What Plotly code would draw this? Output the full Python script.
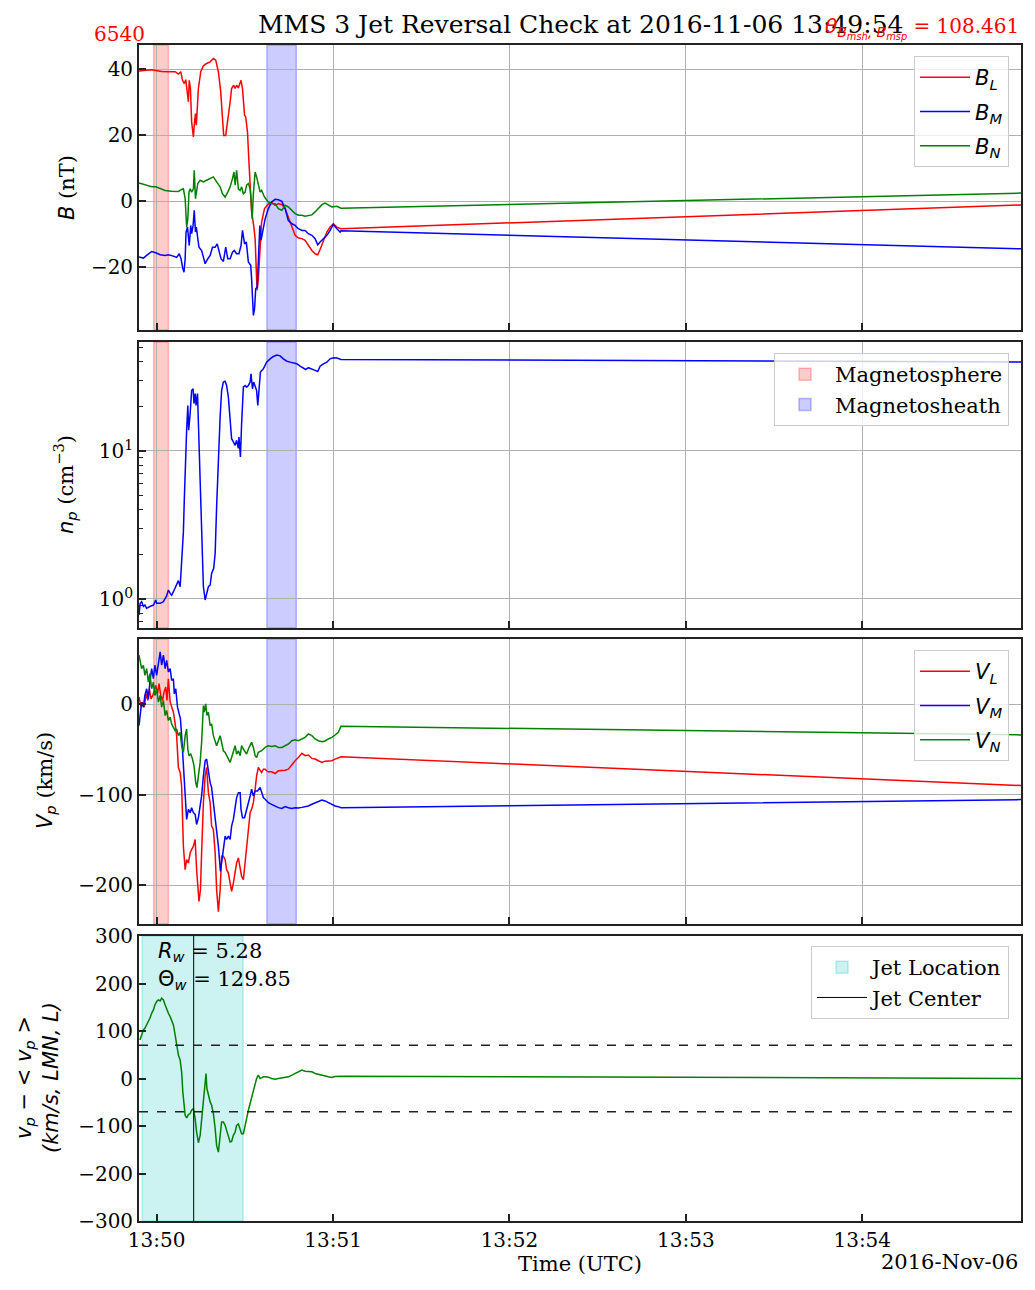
import pandas as pd
import plotly.graph_objects as go
from plotly.subplots import make_subplots

# MMS 3, 2016-11-06. times are seconds after 13:50:00 UTC
T0 = pd.Timestamp("2016-11-06 13:50:00")
T_START, T_END = -6.0, 294.0

# magnetic field, LMN (nT)
BL = [(-6.0, 39.4), (-4.0, 39.6), (-1.7, 39.8), (-0.3, 39.6), (1.7, 39.3), (4.0, 39.2), (6.3, 39.2), (7.4, 38.5),
      (8.2, 39.2), (8.8, 36.6), (9.4, 35.6), (9.9, 36.8), (10.2, 34.6), (10.8, 30.1), (11.1, 36.6), (11.5, 34.1),
      (11.9, 24.0), (12.5, 19.4), (12.8, 23.0), (13.2, 26.5), (13.5, 23.0), (14.2, 34.1), (15.0, 39.2), (15.9, 41.0),
      (17.0, 41.7), (18.2, 42.2), (19.3, 43.2), (20.1, 42.7), (21.0, 39.2), (21.8, 33.1), (22.4, 25.0), (22.8, 19.9),
      (23.5, 19.9), (24.2, 24.0), (25.0, 30.1), (25.5, 34.1), (26.2, 35.1), (26.7, 34.1), (27.2, 35.1), (27.8, 34.3),
      (28.7, 36.6), (29.2, 34.1), (29.9, 26.0), (30.3, 25.5), (30.9, 20.9), (31.4, 11.8), (31.9, 3.7), (32.3, -3.3),
      (33.0, -7.4), (33.5, -11.4), (34.0, -23.6), (34.2, -27.0), (34.6, -23.6), (35.0, -17.5), (35.3, -9.4),
      (35.7, -6.4), (36.7, -2.3), (37.8, -1.1), (39.1, -0.3), (40.3, -1.3), (41.4, -0.8), (42.6, -1.1), (43.7, -2.3),
      (44.8, -4.9), (46.0, -7.9), (47.1, -10.4), (48.2, -11.2), (49.4, -11.4), (50.5, -11.9), (51.6, -13.5),
      (52.8, -15.0), (53.9, -16.0), (54.8, -16.3), (55.6, -14.7), (56.7, -12.4), (57.9, -9.4), (59.0, -7.9),
      (60.1, -6.9), (61.3, -7.9), (62.4, -8.4), (62.7, -8.4), (294.0, -1.2)]
BM = [(-6.0, -17.0), (-4.5, -17.3), (-3.4, -16.5), (-1.7, -15.3), (-0.3, -15.7), (1.2, -16.3), (2.9, -16.5),
      (4.0, -16.3), (5.7, -16.7), (6.8, -17.1), (7.7, -16.0), (8.3, -17.5), (8.9, -20.5), (9.3, -21.6), (9.7, -17.5),
      (10.0, -9.4), (10.5, -7.9), (10.8, -11.4), (11.1, -13.5), (11.6, -7.4), (11.9, -9.9), (12.4, -7.4),
      (12.8, -2.8), (13.2, -9.4), (13.5, -7.9), (14.0, -11.4), (14.4, -14.0), (15.3, -15.0), (16.5, -19.0),
      (17.4, -17.5), (18.2, -16.5), (19.0, -14.0), (19.9, -14.0), (20.6, -13.0), (21.2, -15.0), (21.9, -17.5),
      (22.7, -18.3), (23.5, -14.0), (24.2, -17.5), (25.0, -17.5), (25.8, -15.5), (26.4, -15.0), (27.2, -16.0),
      (28.0, -16.0), (28.7, -13.5), (29.2, -8.9), (29.9, -13.0), (30.5, -12.4), (31.2, -18.5), (32.0, -19.5),
      (32.3, -23.6), (32.9, -34.7), (33.3, -32.7), (33.7, -26.6), (34.2, -26.1), (34.6, -17.5), (35.1, -7.4),
      (35.5, -11.9), (36.0, -9.9), (36.9, -5.4), (38.0, -2.3), (39.1, -0.3), (40.3, 0.5), (41.4, 0.4), (42.6, -0.1),
      (43.7, -2.3), (44.8, -5.9), (46.0, -6.9), (47.1, -7.4), (48.2, -8.4), (49.4, -8.9), (50.5, -8.9),
      (51.6, -9.9), (52.8, -10.4), (53.9, -11.4), (54.8, -13.3), (55.6, -12.4), (56.7, -11.4), (57.9, -10.4),
      (59.0, -8.9), (60.1, -7.1), (61.3, -8.4), (62.4, -9.4), (62.7, -9.0), (294.0, -14.5)]
BN = [(-6.0, 5.5), (-4.0, 5.0), (-1.7, 4.3), (-0.3, 4.3), (1.7, 3.7), (2.9, 3.2), (5.1, 3.0), (7.4, 2.9), (8.5, 3.5),
      (9.1, 3.7), (9.7, 0.7), (10.2, -7.9), (10.6, -5.4), (11.0, 2.7), (11.4, 3.7), (11.9, 2.7), (12.5, 3.7),
      (12.8, 9.3), (13.2, 0.7), (13.5, 2.7), (14.0, 5.3), (14.8, 6.3), (15.9, 5.8), (17.0, 6.3), (18.2, 6.8),
      (19.3, 7.3), (20.4, 5.8), (21.6, 4.3), (22.4, 2.2), (23.3, 1.2), (24.2, 2.7), (25.0, 4.3), (25.8, 6.8),
      (26.3, 8.8), (26.7, 4.8), (27.2, 9.3), (27.8, 3.7), (28.4, 3.2), (28.9, 4.3), (29.5, 2.2), (30.1, 2.7),
      (30.6, 4.8), (31.2, 5.3), (31.8, 3.7), (32.1, 0.7), (32.5, -5.4), (32.9, 2.2), (33.5, 8.8), (34.0, 7.3),
      (34.6, 4.8), (35.2, 2.7), (35.7, 3.2), (36.7, 1.2), (37.8, -0.1), (39.1, -0.8), (40.3, -0.8), (41.4, -2.3),
      (42.6, -2.8), (43.7, -1.3), (44.8, -1.8), (46.0, -2.8), (47.1, -3.8), (48.2, -4.3), (49.4, -4.3),
      (50.5, -4.6), (51.6, -4.3), (52.8, -4.2), (53.9, -3.3), (55.0, -2.1), (56.2, -1.1), (57.3, -0.6),
      (58.4, -1.3), (59.6, -1.8), (61.3, -1.6), (62.4, -2.1), (62.7, -2.2), (294.0, 2.4)]

# proton density (cm^-3)
NP = [(-6.0, 0.78), (-5.6, 0.935), (-5.1, 0.96), (-4.5, 0.89), (-4.0, 0.91), (-3.4, 0.865), (-2.3, 0.89),
      (-1.1, 0.91), (-0.3, 0.985), (0.0, 0.935), (1.2, 0.935), (2.3, 0.96), (3.4, 1.05), (4.0, 1.15), (4.6, 1.09),
      (5.1, 1.06), (5.7, 1.12), (6.3, 1.18), (6.8, 1.24), (7.4, 1.33), (8.0, 1.21), (8.3, 1.49), (8.8, 2.25),
      (9.1, 2.84), (9.4, 4.65), (9.9, 11.8), (10.2, 13.8), (10.6, 20.3), (10.9, 13.8), (11.4, 17.9), (11.9, 25.6),
      (12.4, 26.3), (12.7, 20.9), (13.1, 24.4), (13.4, 20.3), (13.9, 24.4), (14.2, 15.3), (14.8, 7.0), (15.3, 2.77),
      (15.9, 1.21), (16.5, 0.985), (17.0, 1.09), (17.6, 1.21), (18.2, 1.24), (18.7, 1.49), (19.4, 1.61),
      (19.9, 2.03), (20.4, 4.19), (21.0, 9.1), (21.6, 17.0), (22.1, 25.6), (22.7, 29.2), (23.3, 29.6), (23.8, 27.7),
      (24.4, 23.1), (25.0, 17.0), (25.5, 12.1), (26.1, 11.5), (26.7, 10.9), (27.2, 11.8), (27.8, 10.4),
      (28.0, 12.4), (28.5, 9.1), (28.9, 15.3), (29.5, 27.0), (30.1, 27.7), (30.6, 27.0), (31.2, 27.7), (31.8, 29.2),
      (32.1, 33.2), (32.6, 26.3), (33.0, 29.2), (33.5, 27.0), (34.0, 25.6), (34.4, 20.3), (34.8, 25.6),
      (35.3, 34.1), (36.3, 35.9), (37.4, 39.8), (38.6, 41.9), (39.7, 43.5), (40.9, 44.4), (42.0, 43.9),
      (43.1, 41.9), (44.3, 40.4), (45.4, 39.8), (46.5, 39.4), (47.7, 38.8), (48.8, 37.4), (49.9, 36.5),
      (50.7, 35.5), (51.6, 36.5), (52.8, 35.9), (53.9, 35.0), (54.8, 34.4), (55.6, 37.4), (56.7, 38.8),
      (57.9, 39.8), (59.0, 41.9), (60.1, 42.6), (61.3, 42.4), (62.4, 41.3), (62.7, 41.5), (294.0, 39.9)]

# proton velocity, LMN (km/s)
VL = [(-6.0, 7.8), (-5.3, -3.3), (-4.9, 2.2), (-4.2, -3.3), (-3.6, 11.5), (-3.0, 4.1), (-2.5, 17.0), (-1.9, 5.9),
      (-1.3, 9.6), (-0.8, 15.2), (-0.3, 20.7), (0.3, 11.5), (0.8, 22.6), (1.4, 9.6), (2.0, 4.1), (2.5, 13.3),
      (3.1, 18.9), (3.5, 4.1), (4.0, 28.1), (4.6, 2.2), (5.1, -3.3), (5.7, -8.9), (6.3, -21.9), (6.8, -34.8),
      (7.4, -70.0), (8.0, -75.6), (8.5, -90.4), (9.1, -157.0), (9.7, -183.0), (10.2, -171.9), (10.8, -175.6),
      (11.4, -164.4), (11.9, -160.7), (12.5, -157.0), (13.1, -149.6), (13.6, -183.0), (14.4, -218.1),
      (14.9, -205.2), (15.3, -164.4), (15.9, -108.9), (16.5, -79.3), (17.0, -70.0), (17.6, -97.8), (18.2, -108.9),
      (18.7, -134.8), (19.3, -138.5), (19.9, -164.4), (20.4, -205.2), (21.0, -229.3), (21.6, -205.2),
      (22.1, -168.1), (22.7, -168.1), (23.3, -171.9), (23.8, -183.0), (24.4, -186.7), (25.0, -197.8),
      (25.5, -207.0), (26.1, -197.8), (26.7, -183.0), (27.2, -175.6), (27.8, -170.0), (28.4, -183.0),
      (28.9, -190.4), (29.5, -194.1), (30.1, -175.6), (30.6, -153.3), (31.2, -134.8), (31.8, -120.0),
      (32.3, -116.3), (32.9, -108.9), (33.5, -94.1), (34.0, -79.3), (34.6, -70.0), (35.2, -73.7), (35.7, -75.6),
      (36.3, -71.9), (36.9, -71.9), (37.4, -73.7), (38.0, -74.8), (39.1, -74.8), (40.3, -76.7), (41.4, -73.7),
      (42.6, -73.7), (43.7, -73.0), (44.8, -71.9), (46.0, -66.3), (47.1, -62.6), (48.2, -58.9), (49.4, -54.4),
      (50.5, -57.0), (51.6, -56.3), (52.8, -60.0), (53.9, -60.7), (55.0, -62.6), (56.2, -64.4), (57.3, -63.0),
      (58.4, -62.6), (59.6, -62.6), (60.7, -60.7), (61.8, -59.3), (62.7, -58.1), (294.0, -90.0)]
VM = [(-6.0, -23.7), (-5.5, -8.9), (-5.1, 2.2), (-4.5, -3.3), (-4.0, 9.6), (-3.4, 17.0), (-2.8, 5.9), (-2.3, 24.4),
      (-1.7, 39.3), (-1.1, 28.1), (-0.6, 43.0), (0.0, 31.9), (0.6, 43.0), (1.2, 57.8), (1.7, 43.0), (2.3, 54.1),
      (2.9, 39.3), (3.4, 48.5), (4.0, 35.6), (4.6, 39.3), (5.1, 26.3), (5.7, 28.1), (6.0, 11.5), (6.5, 17.0),
      (7.1, -3.3), (7.6, -8.9), (8.1, -16.3), (8.5, -34.8), (9.1, -71.9), (9.7, -105.2), (10.2, -127.4),
      (10.8, -116.3), (11.4, -120.0), (11.9, -114.4), (12.5, -120.0), (13.1, -121.9), (13.6, -133.0),
      (14.2, -125.6), (14.8, -112.6), (15.3, -101.5), (15.9, -79.3), (16.5, -62.6), (17.0, -60.7), (17.6, -75.6),
      (18.2, -86.7), (18.7, -92.2), (19.3, -108.9), (19.9, -123.7), (20.4, -142.2), (21.0, -157.0),
      (21.7, -184.8), (22.1, -175.6), (22.7, -160.7), (23.3, -145.9), (23.8, -149.6), (24.4, -145.9),
      (25.0, -149.6), (25.5, -134.8), (26.1, -127.4), (26.7, -114.4), (27.2, -103.3), (27.8, -97.8), (28.4, -97.8),
      (28.7, -116.3), (29.2, -125.6), (29.9, -125.6), (30.4, -120.0), (31.2, -108.9), (31.8, -101.5),
      (32.3, -94.1), (32.9, -101.5), (33.5, -95.9), (34.3, -95.9), (35.2, -92.2), (35.7, -97.8), (36.3, -103.3),
      (36.9, -105.2), (38.0, -108.9), (39.1, -110.7), (40.3, -112.6), (41.4, -114.4), (42.6, -115.2),
      (43.7, -113.3), (44.8, -114.4), (46.0, -115.2), (47.1, -114.4), (48.2, -114.8), (49.4, -114.1),
      (50.5, -113.3), (51.6, -112.6), (52.8, -110.7), (53.9, -108.9), (55.0, -107.8), (56.2, -105.9),
      (57.3, -107.0), (58.4, -108.9), (59.6, -110.7), (60.7, -112.6), (61.8, -113.3), (62.7, -114.4),
      (294.0, -105.5)]
VN = [(-6.0, 54.1), (-5.5, 46.7), (-5.1, 39.3), (-4.5, 43.0), (-4.0, 31.9), (-3.4, 39.3), (-2.8, 24.4), (-2.3, 33.7),
      (-1.7, 17.0), (-1.1, 24.4), (-0.6, 9.6), (0.0, 17.0), (0.6, 2.2), (1.2, 9.6), (1.7, -3.3), (2.3, 4.1),
      (2.9, -12.6), (3.4, -7.0), (4.0, -18.1), (4.6, -14.4), (5.1, -21.9), (5.7, -25.6), (6.3, -29.3), (6.8, -27.4),
      (7.4, -34.8), (8.0, -31.1), (8.5, -45.9), (9.1, -53.3), (9.7, -34.8), (10.2, -27.4), (10.6, -49.6),
      (11.0, -57.0), (11.6, -55.2), (12.2, -60.7), (12.7, -68.1), (13.3, -86.7), (13.7, -92.2), (14.2, -79.3),
      (14.8, -64.4), (15.3, -42.2), (15.9, -1.5), (16.2, -8.9), (16.7, 0.4), (17.1, -12.6), (17.6, -8.9),
      (18.2, -23.7), (18.7, -21.9), (19.3, -34.8), (19.9, -42.2), (20.4, -45.9), (21.0, -40.4), (21.6, -34.8),
      (22.1, -42.2), (22.7, -51.5), (23.3, -53.3), (23.8, -57.0), (24.4, -60.7), (25.0, -64.4), (25.5, -58.9),
      (26.1, -53.3), (26.7, -45.9), (27.2, -55.2), (27.8, -51.5), (28.4, -57.0), (28.9, -45.9), (29.5, -49.6),
      (30.1, -53.3), (30.6, -55.2), (31.2, -49.6), (31.8, -45.9), (32.3, -42.2), (32.9, -47.8), (33.5, -57.0),
      (34.0, -58.9), (34.6, -53.3), (35.7, -51.5), (36.9, -47.8), (38.0, -45.9), (39.1, -46.7), (40.3, -45.9),
      (41.4, -47.8), (42.6, -47.8), (43.7, -45.9), (44.8, -44.1), (46.0, -40.4), (47.1, -39.3), (48.2, -40.4),
      (49.4, -38.5), (50.5, -36.7), (51.6, -33.0), (52.8, -34.8), (53.9, -38.5), (55.0, -40.4), (56.2, -41.5),
      (57.3, -40.7), (58.4, -38.5), (59.6, -36.7), (60.7, -34.1), (61.8, -31.1), (62.7, -24.4), (294.0, -34.0)]

# v_L minus its mean (km/s)
VJET = [(-5.7, 81.0), (-5.1, 91.5), (-4.5, 102.1), (-4.0, 105.6), (-3.4, 112.7), (-2.8, 119.7), (-2.3, 126.8),
        (-1.7, 137.3), (-1.1, 144.4), (-0.6, 154.9), (0.0, 162.0), (0.6, 165.5), (1.2, 163.4), (1.7, 169.0),
        (2.3, 165.5), (2.9, 154.9), (3.4, 144.4), (4.0, 137.3), (4.6, 130.3), (5.1, 123.2), (5.7, 112.7),
        (6.3, 91.5), (6.8, 66.9), (7.4, 49.3), (8.0, 38.7), (8.5, 14.1), (8.9, -28.2), (9.3, -63.4), (9.7, -77.5),
        (10.2, -83.1), (10.8, -76.1), (11.4, -73.9), (11.9, -66.9), (12.5, -63.4), (13.1, -84.5), (13.6, -112.7),
        (14.2, -135.2), (14.8, -119.7), (15.3, -84.5), (15.9, -42.3), (16.5, -14.1), (16.8, 10.6), (17.1, -21.1),
        (17.6, -35.2), (18.2, -49.3), (18.7, -56.3), (19.3, -73.9), (19.9, -105.6), (20.4, -140.8), (21.0, -154.9),
        (21.6, -119.7), (22.1, -91.5), (22.7, -91.5), (23.3, -98.6), (23.8, -109.2), (24.4, -123.2),
        (25.0, -133.8), (25.5, -132.4), (26.1, -119.7), (26.7, -112.7), (27.2, -98.6), (27.8, -95.8),
        (28.4, -105.6), (28.9, -116.2), (29.5, -116.2), (30.1, -102.1), (30.6, -84.5), (31.2, -66.9),
        (31.8, -52.8), (32.3, -45.8), (32.9, -31.7), (33.5, -17.6), (34.0, 0.0), (34.6, 7.0), (35.2, 0.0),
        (35.7, 1.4), (36.3, 3.5), (36.9, 3.5), (38.0, 2.8), (39.1, 0.0), (40.3, -1.4), (41.4, 0.0), (42.6, 1.4),
        (43.7, 1.4), (44.8, 3.5), (46.0, 7.0), (47.1, 10.6), (48.2, 14.1), (49.4, 17.6), (50.5, 15.5),
        (51.6, 14.1), (52.8, 14.1), (53.9, 10.6), (55.0, 8.5), (56.2, 7.0), (57.3, 4.9), (58.4, 3.5), (59.6, 2.1),
        (60.7, 4.2), (62.7, 4.9), (294.0, 0.0)]

MSP_WIN = (-1.0, 4.0)      # magnetosphere interval
MSH_WIN = (37.5, 47.5)     # magnetosheath interval
JET_WIN = (-4.9, 29.4)
JET_CENTER = 12.6
V_THRESH = 70.0
R_W, THETA_W = 5.28, 129.85
THETA_B = 108.461

FONT = "DejaVu Serif"
SANS_IT = "font-family:DejaVu Sans;font-style:italic"
SANS = "font-family:DejaVu Sans"
W, H = 1035, 1290
PAGE_OFF = 8  # page body margin in the browser
TICK_SIZE, LABEL_SIZE = 20, 21


def px(x):
    return (x - PAGE_OFF) / W


def py(y):
    return 1 - (y - PAGE_OFF) / H


def ts(sec):
    return T0 + pd.to_timedelta(sec, unit="s")


def split(pairs):
    t, v = zip(*pairs)
    return [ts(s) for s in t], list(v)


def m(s):
    return f'<span style="{SANS_IT}">{s}</span>'


fig = make_subplots(rows=4, cols=1, shared_xaxes=True)

for pairs, name, col in [(BL, "B<sub>L</sub>", "red"), (BM, "B<sub>M</sub>", "blue"), (BN, "B<sub>N</sub>", "green")]:
    x, y = split(pairs)
    fig.add_trace(go.Scatter(x=x, y=y, mode="lines", line=dict(color=col, width=1.5), name=m(name),
                             legend="legend", legendgroup=name), row=1, col=1)

x, y = split(NP)
fig.add_trace(go.Scatter(x=x, y=y, mode="lines", line=dict(color="blue", width=1.5), showlegend=False), row=2, col=1)

for pairs, name, col in [(VL, "V<sub>L</sub>", "red"), (VM, "V<sub>M</sub>", "blue"), (VN, "V<sub>N</sub>", "green")]:
    x, y = split(pairs)
    fig.add_trace(go.Scatter(x=x, y=y, mode="lines", line=dict(color=col, width=1.5), name=m(name),
                             legend="legend3", legendgroup=name), row=3, col=1)

x, y = split(VJET)
fig.add_trace(go.Scatter(x=x, y=y, mode="lines", line=dict(color="green", width=1.5), showlegend=False), row=4, col=1)

# shaded intervals
for r in (1, 2, 3):
    fig.add_vrect(x0=ts(MSP_WIN[0]), x1=ts(MSP_WIN[1]), row=r, col=1, layer="below",
                  fillcolor="rgba(255,0,0,0.2)", line=dict(color="rgba(255,0,0,0.25)", width=1.5),
                  showlegend=(r == 2), legend="legend2", name="Magnetosphere", legendgroup="msp")
    fig.add_vrect(x0=ts(MSH_WIN[0]), x1=ts(MSH_WIN[1]), row=r, col=1, layer="below",
                  fillcolor="rgba(0,0,255,0.2)", line=dict(color="rgba(0,0,255,0.25)", width=1.5),
                  showlegend=(r == 2), legend="legend2", name="Magnetosheath", legendgroup="msh")

fig.add_vrect(x0=ts(JET_WIN[0]), x1=ts(JET_WIN[1]), row=4, col=1, layer="below",
              fillcolor="rgba(0,191,191,0.2)", line=dict(color="rgba(0,191,191,0.25)", width=1.5),
              showlegend=True, legend="legend4", name="Jet Location", legendgroup="jl")
fig.add_vline(x=ts(JET_CENTER), row=4, col=1, line=dict(color="black", width=1),
              showlegend=True, legend="legend4", name="Jet Center", legendgroup="jc")
for v in (V_THRESH, -V_THRESH):
    fig.add_hline(y=v, row=4, col=1, line=dict(color="#222222", width=1.3, dash="dash"))

frame = dict(showline=True, mirror=True, linecolor="#222222", linewidth=1.8, ticks="inside", ticklen=7,
             tickwidth=1.5, tickcolor="#222222", tickfont=dict(family=FONT, size=TICK_SIZE, color="black"),
             gridcolor="#b0b0b0", gridwidth=1.2, zeroline=False, automargin=False)

XD = [px(139), px(1021)]
YD = [[py(330), py(45)], [py(628), py(342)], [py(924), py(639)], [py(1221), py(936)]]

for i in range(1, 5):
    sfx = "" if i == 1 else str(i)
    fig.layout["xaxis" + sfx].update(domain=XD, range=[ts(T_START), ts(T_END)], dtick=60000, tickformat="%H:%M",
                                     showticklabels=(i == 4), showgrid=(i < 4), **frame)
    fig.layout["yaxis" + sfx].update(domain=YD[i - 1], showgrid=(i < 4), **frame)

fig.update_layout(
    yaxis=dict(range=[-39.1, 47.3], dtick=20),
    yaxis2=dict(type="log", range=[-0.196, 1.736], tickvals=[1, 10], ticktext=["10<sup>0</sup>", "10<sup>1</sup>"],
                minor=dict(ticks="inside", ticklen=4, tickwidth=1, tickcolor="#222222", showgrid=False,
                           tickvals=[0.7, 0.8, 0.9, 2, 3, 4, 5, 6, 7, 8, 9, 20, 30, 40, 50])),
    yaxis3=dict(range=[-243, 72], dtick=100),
    yaxis4=dict(range=[-300, 300], dtick=100),
)

leg = dict(xanchor="right", yanchor="top", bordercolor="#cccccc", borderwidth=1, bgcolor="rgba(255,255,255,0.8)",
           font=dict(family=FONT, size=LABEL_SIZE, color="black"), traceorder="grouped", itemwidth=50)
fig.update_layout(
    width=W, height=H, margin=dict(l=0, r=0, t=0, b=0, autoexpand=False),
    plot_bgcolor="white", paper_bgcolor="white", font=dict(family=FONT, size=LABEL_SIZE, color="black"),
    legend=dict(x=px(1009), y=py(56), tracegroupgap=4, **leg),
    legend2=dict(x=px(1009), y=py(353), tracegroupgap=0, **leg),
    legend3=dict(x=px(1009), y=py(650), tracegroupgap=4, **leg),
    legend4=dict(x=px(1009), y=py(946), tracegroupgap=0, **leg),
)

ann = [
    dict(text="MMS 3 Jet Reversal Check at 2016-11-06 13:49:54", x=px(580), y=py(25), font=dict(size=25)),
    dict(text="6540", x=px(147), y=py(34), xanchor="right", font=dict(size=TICK_SIZE, color="red")),
    dict(text=m("θ<sub>B<sub>msh</sub>, B<sub>msp</sub></sub>") + f" = {THETA_B}", x=px(1021), y=py(28),
         xanchor="right", font=dict(size=TICK_SIZE, color="red")),
    dict(text=m("B") + " (nT)", x=px(67), y=py(188), textangle=-90),
    dict(text=m("n<sub>p</sub>") + " (cm<sup>−3</sup>)", x=px(65), y=py(485), textangle=-90),
    dict(text=m("V<sub>p</sub>") + " (km/s)", x=px(46), y=py(781), textangle=-90),
    dict(text=m("v<sub>p</sub> − &lt; v<sub>p</sub> &gt;") + "<br>" + m("(km/s, LMN, L)"), x=px(37),
         y=py(1078), textangle=-90),
    dict(text=m("R<sub>w</sub>") + f" = {R_W}", x=px(156), y=py(952), xanchor="left"),
    dict(text=f'<span style="{SANS}">Θ</span>' + m("<sub>w</sub>") + f" = {THETA_W}", x=px(156), y=py(980),
         xanchor="left"),
    dict(text="Time (UTC)", x=px(580), y=py(1264)),
    dict(text="2016-Nov-06", x=px(1020), y=py(1262), xanchor="right"),
]
for a in ann:
    a.setdefault("xanchor", "center")
    a.setdefault("yanchor", "middle")
    fig.add_annotation(xref="paper", yref="paper", showarrow=False, **a)

fig.write_html("out.html")
